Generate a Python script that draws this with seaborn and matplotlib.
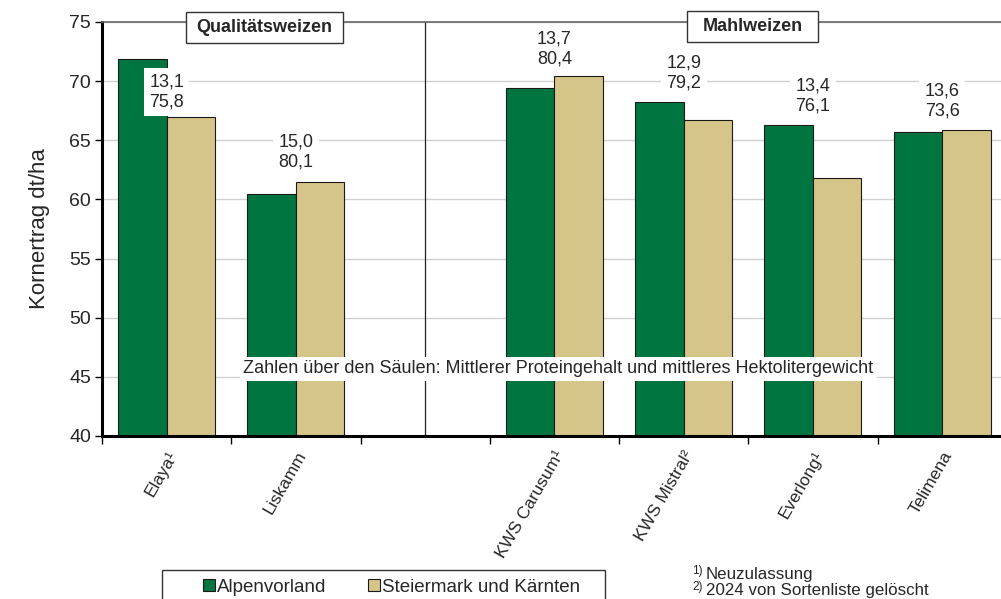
import matplotlib
matplotlib.use("Agg")
import matplotlib.pyplot as plt
import seaborn as sns
import pandas as pd
import numpy as np
from matplotlib.patches import Patch, Rectangle

# ---- data ----
sorten = ["Elaya¹", "Liskamm", " ", "KWS Carusum¹", "KWS Mistral²", "Everlong¹", "Telimena"]
alpenvorland = [71.9, 60.5, np.nan, 69.4, 68.2, 66.3, 65.7]
steiermark = [67.0, 61.5, np.nan, 70.4, 66.7, 61.8, 65.9]
protein = ["13,1", "15,0", "", "13,7", "12,9", "13,4", "13,6"]
hektoliter = ["75,8", "80,1", "", "80,4", "79,2", "76,1", "73,6"]
regions = ["Alpenvorland", "Steiermark und Kärnten"]
groups = ["Qualitätsweizen", "Mahlweizen"]

# label layout (y centre of the value labels, data units)
label_y = [69.1, 64.0, None, 72.7, 70.7, 68.75, 68.3]

GREEN = "#00753F"
TAN = "#D6C588"

sns.set_theme(style="white")
plt.rcParams["font.family"] = ["Liberation Sans", "DejaVu Sans"]

df = pd.DataFrame({
    "Sorte": sorten * 2,
    "Ertrag": alpenvorland + steiermark,
    "Region": [regions[0]] * len(sorten) + [regions[1]] * len(sorten),
})

W, H = 1001, 599
fig = plt.figure(figsize=(W / 100, H / 100), dpi=100)
ax = fig.add_axes([102 / W, 1 - 436 / H, (W - 102) / W, (436 - 22) / H])

sns.barplot(data=df, x="Sorte", y="Ertrag", hue="Region", order=sorten,
            hue_order=regions, palette=[GREEN, TAN], width=0.75, saturation=1,
            edgecolor="#1a1a1a", linewidth=0.8, ax=ax, legend=False, zorder=2)

ax.set_ylim(40, 75)
ax.set_xlim(-0.5, 6.455)
ax.set_yticks(range(40, 80, 5))
ax.yaxis.grid(True, color="#d0d0d0", linewidth=1.0, zorder=0)
ax.set_axisbelow(True)

# ticks at slot boundaries, labels at slot centres
ax.set_xticks(np.arange(-0.5, 6.5, 1.0))
ax.set_xticklabels([])
ax.set_xticks(np.arange(len(sorten)), minor=True)
ax.set_xticklabels(sorten, minor=True, rotation=60, ha="right",
                   rotation_mode="anchor", fontsize=12.5)
ax.tick_params(axis="x", which="major", length=6, width=1, color="black", direction="out", bottom=True)
ax.tick_params(axis="x", which="minor", length=0, pad=9)
ax.tick_params(axis="y", length=5, width=1, color="black", direction="out", left=True, labelsize=14, pad=3)
ax.set_xlabel("")
ax.set_ylabel("Kornertrag dt/ha", fontsize=16, labelpad=14)

for s in ["left", "bottom"]:
    ax.spines[s].set_color("black")
    ax.spines[s].set_linewidth(2.2)
ax.spines["top"].set_color("#666666")
ax.spines["top"].set_linewidth(1.2)
ax.spines["right"].set_visible(False)

# separator between groups (centre of the empty slot)
ax.axvline(2.0, color="#222222", linewidth=0.9, zorder=1)

# value labels
for i, (p, h) in enumerate(zip(protein, hektoliter)):
    if not p:
        continue
    ax.text(i, label_y[i], f"{p}\n{h}", ha="center", va="center", fontsize=13,
            linespacing=1.25, zorder=5,
            bbox=dict(boxstyle="square,pad=0.3", facecolor="white", edgecolor="none"))

# note in the middle
ax.text(3.03, 45.67, "Zahlen über den Säulen: Mittlerer Proteingehalt und mittleres Hektolitergewicht",
        ha="center", va="center", fontsize=13, zorder=5,
        bbox=dict(boxstyle="square,pad=0.2", facecolor="white", edgecolor="none"))

# group boxes (pixel layout: x0, x1, y0, y1)
group_boxes = [(186, 343, 12, 43), (687, 818, 11, 42)]
for (x0, x1, y0, y1), g in zip(group_boxes, groups):
    fig.patches.append(Rectangle((x0 / W, 1 - y1 / H), (x1 - x0) / W, (y1 - y0) / H,
                                 transform=fig.transFigure, facecolor="white",
                                 edgecolor="#333333", linewidth=1.0, zorder=10))
    fig.text((x0 + x1) / 2 / W, 1 - (y0 + y1) / 2 / H, g, ha="center", va="center",
             fontsize=13, fontweight="bold", zorder=11)

# legend frame + frameless legend
fig.patches.append(Rectangle((162 / W, -0.05), (605 - 162) / W, (H - 570) / H + 0.05,
                             transform=fig.transFigure, facecolor="white", edgecolor="#333333",
                             linewidth=1.0, zorder=1))
handles = [Patch(facecolor=GREEN, edgecolor="#1a1a1a", linewidth=0.8),
           Patch(facecolor=TAN, edgecolor="#1a1a1a", linewidth=0.8)]
leg = fig.legend(handles, regions, loc="center left", bbox_to_anchor=(203 / W, 1 - 587 / H),
                 ncol=2, frameon=False, fontsize=13.5, handlelength=0.62,
                 handleheight=0.62, handletextpad=0.15, columnspacing=2.2, borderpad=0,
                 borderaxespad=0)
leg.set_zorder(5)

# footnotes
fig.text(692 / W, 1 - 571 / H, "1)", fontsize=8.5, va="center", ha="left")
fig.text(706 / W, 1 - 574 / H, "Neuzulassung", fontsize=12.2, va="center", ha="left")
fig.text(692 / W, 1 - 587 / H, "2)", fontsize=8.5, va="center", ha="left")
fig.text(706 / W, 1 - 590 / H, "2024 von Sortenliste gelöscht", fontsize=12.2, va="center", ha="left")

fig.savefig("out.png", dpi=100)
